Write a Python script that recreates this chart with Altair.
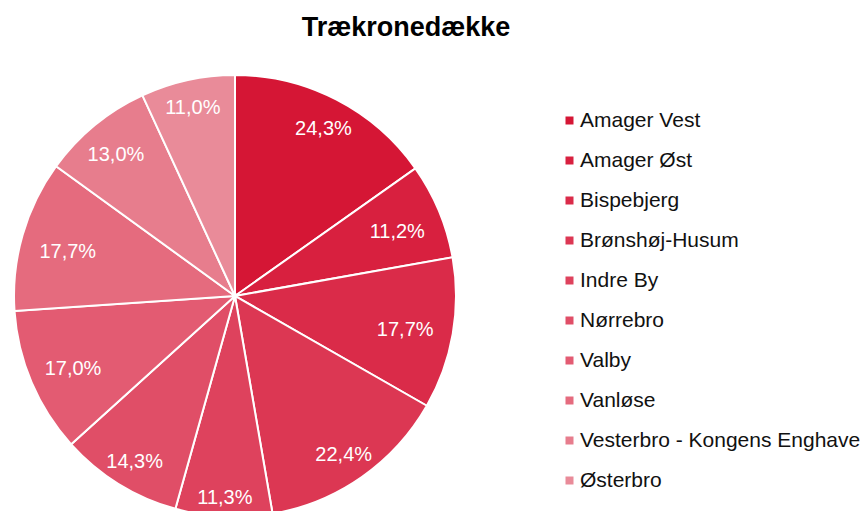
import altair as alt
import pandas as pd

districts = ["Amager Vest", "Amager Øst", "Bispebjerg", "Brønshøj-Husum", "Indre By",
             "Nørrebro", "Valby", "Vanløse", "Vesterbro - Kongens Enghave", "Østerbro"]
values = [24.3, 11.2, 17.7, 22.4, 11.3, 14.3, 17.0, 17.7, 13.0, 11.0]
labels = ["24,3%", "11,2%", "17,7%", "22,4%", "11,3%", "14,3%", "17,0%", "17,7%", "13,0%", "11,0%"]
colors = ["#D51635", "#D8203F", "#DA2B49", "#DC3753", "#DE425D", "#E04E67",
          "#E35B72", "#E56B7E", "#E77D8D", "#E98B99"]

df = pd.DataFrame({"idx": list(range(len(districts))), "district": districts,
                   "value": values, "label": labels})

FONT = "Liberation Sans"
CX, CY = 235, 236

arcs = alt.Chart(df).mark_arc(radius=221, stroke="white", strokeWidth=2).encode(
    theta=alt.Theta("value:Q", stack=True),
    order=alt.Order("idx:Q", sort="ascending"),
    x=alt.value(CX), y=alt.value(CY),
    color=alt.Color(
        "district:N",
        scale=alt.Scale(domain=districts, range=colors),
        sort=districts,
        legend=alt.Legend(
            title=None, orient="none", legendX=559, legendY=50,
            symbolType="square", symbolSize=64, symbolStrokeWidth=0,
            labelFont=FONT, labelFontSize=21, labelColor="#111111",
            labelOffset=0, rowPadding=18, padding=0, labelLimit=400,
        ),
    ),
)

text = alt.Chart(df).transform_joinaggregate(
    total="sum(value)"
).transform_window(
    cum="sum(value)", sort=[alt.SortField("idx", order="ascending")]
).transform_calculate(
    mid="(datum.cum - datum.value/2) / datum.total * 2 * PI",
    lr="172 + 26 * pow(cos(datum.mid), 2)",
).mark_text(font=FONT, fontSize=20, color="white", align="center", baseline="middle", dy=4).encode(
    x=alt.value(CX), y=alt.value(CY),
    theta=alt.Theta("mid:Q", scale=None),
    radius=alt.Radius("lr:Q", scale=None),
    text="label:N",
)

chart = alt.layer(arcs, text).properties(
    width=864, height=451,
    padding={"left": 0, "top": 60, "right": 0, "bottom": 0},
    autosize=alt.AutoSizeParams(type="none"),
    title=alt.TitleParams("Trækronedække", font=FONT, fontSize=27, fontWeight="bold",
                          color="#000000", anchor="middle", dx=-26, offset=18),
).configure_view(stroke=None)

chart.save("out.html", embed_options={"renderer": "svg", "actions": False})
